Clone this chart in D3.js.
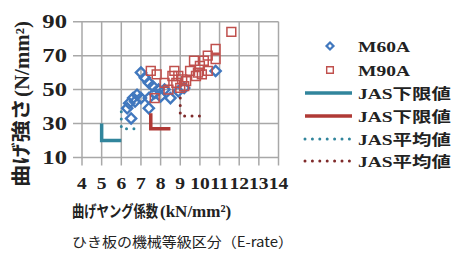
<!DOCTYPE html>
<html>
<head>
<meta charset="utf-8">
<script src="https://cdn.jsdelivr.net/npm/d3@7"></script>
<style>
  body { margin: 0; background: #fff; }
  text { fill: #222; }
</style>
</head>
<body>
<svg id="chart" width="453" height="253"></svg>
<script>
// data
const xTicks = [4, 5, 6, 7, 8, 9, 10, 11, 12, 13, 14];
const yTicks = [10, 30, 50, 70, 90];

const m60a = [
  [7.0, 60], [7.2, 57], [7.4, 54], [7.6, 52], [7.9, 50], [6.8, 47], [6.6, 45],
  [6.4, 42], [6.3, 39], [6.5, 33], [6.7, 43], [7.0, 45], [7.4, 45], [7.4, 39],
  [7.7, 48], [8.0, 46], [8.2, 50], [8.5, 45], [8.9, 49], [9.2, 51], [10.8, 61]
];
const m90a = [
  [11.6, 84], [10.8, 74], [10.4, 70], [10.8, 68], [10.2, 67], [9.7, 67], [10.0, 64],
  [10.4, 61], [9.9, 60], [9.5, 61], [8.7, 61], [8.6, 58], [8.9, 58], [9.1, 56],
  [9.3, 55], [9.2, 52], [9.0, 51], [8.2, 54], [8.4, 50], [7.8, 59], [7.5, 61],
  [7.7, 45], [9.8, 58], [8.8, 54], [10.1, 59]
];
const jasLow60 = [[5, 30], [5, 20], [6, 20]];
const jasLow90 = [[7.5, 36], [7.5, 27], [8.5, 27]];
const jasAvg60 = [[6, 37], [6, 27], [7, 27]];
const jasAvg90 = [[9, 45], [9, 34.5], [10, 34.5]];

const legendLabels = ["M60A", "M90A", "JAS下限値", "JAS下限値", "JAS平均値", "JAS平均値"];

const blue = "#4178be", red = "#c0504d", teal = "#31859c", red2 = "#b03a36", darkRed = "#7f2a2a";
const serif = "'Liberation Serif', 'DejaVu Serif', 'Noto Sans CJK JP', serif";

const svg = d3.select("#chart");
const x = d3.scaleLinear().domain([4, 14]).range([82, 278.5]);
const y = d3.scaleLinear().domain([10, 90]).range([157.5, 21.7]);

// grid
const grid = svg.append("g").attr("stroke", "#a8a8a8").attr("stroke-width", 1.5);
grid.selectAll(".vx").data(xTicks).join("line")
  .attr("x1", d => x(d)).attr("x2", d => x(d))
  .attr("y1", y(90)).attr("y2", y(10) + 8);
grid.selectAll(".hy").data(yTicks).join("line")
  .attr("x1", x(4) - 9).attr("x2", x(14))
  .attr("y1", d => y(d)).attr("y2", d => y(d));

// tick labels
svg.append("g").selectAll("text").data(yTicks).join("text")
  .attr("transform", d => `translate(67,${y(d)}) scale(1.3,1)`)
  .attr("text-anchor", "end").attr("dominant-baseline", "central")
  .style("font", `bold 19px ${serif}`)
  .text(d => d);

svg.append("g").selectAll("text").data(xTicks).join("text")
  .attr("transform", d => `translate(${x(d)},188.5) scale(1.15,1)`)
  .attr("text-anchor", "middle")
  .style("font", `bold 17px ${serif}`)
  .text(d => d);

// axis titles: CJK part stretched with a scale, latin part beside it
svg.append("text")
  .attr("transform", "translate(22,187) rotate(-90) scale(1.17,1)")
  .attr("dominant-baseline", "central")
  .style("font", `bold 19px ${serif}`)
  .text("曲げ強さ");
svg.append("text")
  .attr("transform", "translate(22,97) rotate(-90)")
  .attr("dominant-baseline", "central")
  .attr("textLength", 76).attr("lengthAdjust", "spacingAndGlyphs")
  .style("font", `bold 20px ${serif}`)
  .text("(N/mm²)");

svg.append("text")
  .attr("transform", "translate(72,217) scale(0.77,1)")
  .style("font", `bold 16px ${serif}`)
  .text("曲げヤング係数");
svg.append("text")
  .attr("x", 160).attr("y", 217)
  .style("font", `bold 17px ${serif}`)
  .text("(kN/mm²)");

svg.append("text")
  .attr("x", 72).attr("y", 246.5)
  .attr("textLength", 221).attr("lengthAdjust", "spacingAndGlyphs")
  .style("font", "14px 'Noto Sans CJK JP', sans-serif")
  .text("ひき板の機械等級区分（E-rate）");

// points
const diamond = d3.symbol().type(d3.symbolSquare).size(52);
const square = d3.symbol().type(d3.symbolSquare).size(78);

svg.append("g").selectAll("path").data(m60a).join("path")
  .attr("d", diamond)
  .attr("transform", d => `translate(${x(d[0])},${y(d[1])}) rotate(45)`)
  .attr("fill", "none").attr("stroke", blue).attr("stroke-width", 2.4);

svg.append("g").selectAll("path").data(m90a).join("path")
  .attr("d", square)
  .attr("transform", d => `translate(${x(d[0])},${y(d[1])})`)
  .attr("fill", "none").attr("stroke", red).attr("stroke-width", 1.5);

// JAS lines
const line = d3.line().x(d => x(d[0])).y(d => y(d[1]));
const lines = [
  { data: jasLow60, color: teal, dash: null },
  { data: jasLow90, color: red2, dash: null },
  { data: jasAvg60, color: teal, dash: "0,7.4" },
  { data: jasAvg90, color: darkRed, dash: "0,7.4" }
];
lines.forEach(l => {
  svg.append("path").attr("d", line(l.data))
    .attr("fill", "none").attr("stroke", l.color)
    .attr("stroke-width", l.dash ? 3 : 3.5)
    .attr("stroke-linecap", l.dash ? "round" : "butt")
    .attr("stroke-dasharray", l.dash);
});

// legend
const rowY = [46, 70, 93, 116, 139, 161];
const leg = svg.append("g");
leg.append("path").attr("d", d3.symbol().type(d3.symbolSquare).size(24))
  .attr("transform", `translate(330,${rowY[0]}) rotate(45)`)
  .attr("fill", "none").attr("stroke", blue).attr("stroke-width", 2.2);
leg.append("path").attr("d", d3.symbol().type(d3.symbolSquare).size(44))
  .attr("transform", `translate(330,${rowY[1]})`)
  .attr("fill", "none").attr("stroke", red).attr("stroke-width", 1.4);
lines.forEach((l, i) => {
  leg.append("line")
    .attr("x1", 305).attr("x2", l.dash ? 351 : 352)
    .attr("y1", rowY[i + 2]).attr("y2", rowY[i + 2])
    .attr("stroke", l.color).attr("stroke-width", l.dash ? 3 : 3.5)
    .attr("stroke-linecap", l.dash ? "round" : "butt")
    .attr("stroke-dasharray", l.dash);
});
leg.selectAll("text").data(legendLabels).join("text")
  .attr("x", 358).attr("y", (d, i) => rowY[i] + 5.5)
  .attr("textLength", (d, i) => i < 2 ? 52 : 93)
  .attr("lengthAdjust", "spacingAndGlyphs")
  .style("font", `bold 15px ${serif}`)
  .text(d => d);
</script>
</body>
</html>
